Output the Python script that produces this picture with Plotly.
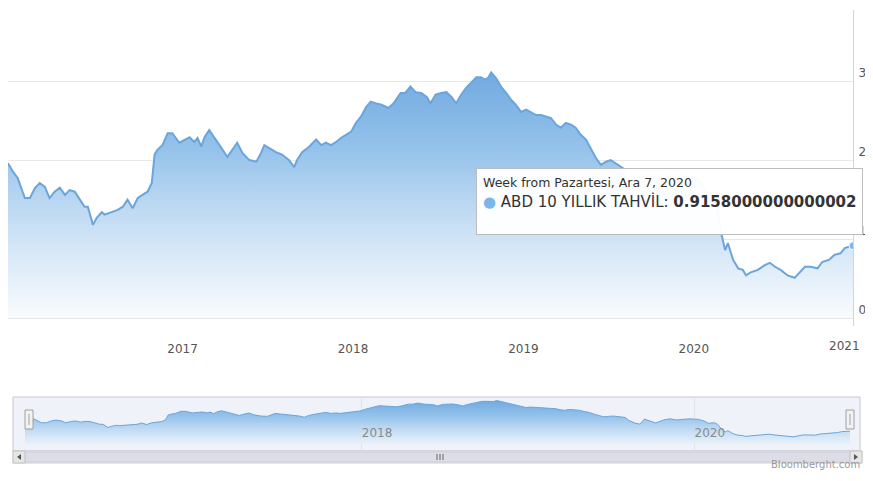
import plotly.graph_objects as go

# ---------------- data ----------------
dates = [
    "2015-12-24", "2016-01-04", "2016-01-14", "2016-01-29", "2016-02-09", "2016-02-20",
    "2016-03-01", "2016-03-12", "2016-03-22", "2016-04-02", "2016-04-13", "2016-04-24",
    "2016-05-04", "2016-05-15", "2016-05-26", "2016-06-05", "2016-06-12", "2016-06-23",
    "2016-07-01", "2016-07-12", "2016-07-18", "2016-07-29", "2016-08-15", "2016-08-26",
    "2016-09-05", "2016-09-16", "2016-09-27", "2016-10-07", "2016-10-18", "2016-10-27",
    "2016-11-02", "2016-11-08", "2016-11-19", "2016-11-30", "2016-12-10", "2016-12-25",
    "2017-01-05", "2017-01-16", "2017-01-26", "2017-02-02", "2017-02-10", "2017-02-17",
    "2017-02-27", "2017-03-10", "2017-03-21", "2017-04-07", "2017-04-17", "2017-04-28",
    "2017-05-09", "2017-05-24", "2017-06-08", "2017-06-18", "2017-06-25", "2017-07-05",
    "2017-07-20", "2017-08-02", "2017-08-17", "2017-08-28", "2017-09-03", "2017-09-14",
    "2017-09-29", "2017-10-14", "2017-10-25", "2017-11-04", "2017-11-15", "2017-11-26",
    "2017-12-06", "2017-12-17", "2017-12-28", "2018-01-07", "2018-01-18", "2018-01-29",
    "2018-02-08", "2018-02-18", "2018-03-03", "2018-03-18", "2018-03-29", "2018-04-13",
    "2018-04-23", "2018-05-04", "2018-05-15", "2018-05-27", "2018-06-08", "2018-06-16",
    "2018-06-27", "2018-07-09", "2018-07-20", "2018-07-31", "2018-08-10", "2018-08-21",
    "2018-09-01", "2018-09-11", "2018-09-22", "2018-10-02", "2018-10-11", "2018-10-17",
    "2018-10-24", "2018-11-03", "2018-11-14", "2018-11-25", "2018-12-06", "2018-12-16",
    "2018-12-27", "2019-01-07", "2019-01-18", "2019-01-28", "2019-02-08", "2019-02-18",
    "2019-03-01", "2019-03-12", "2019-03-22", "2019-04-02", "2019-04-13", "2019-04-23",
    "2019-05-04", "2019-05-15", "2019-05-26", "2019-06-05", "2019-06-16", "2019-06-27",
    "2019-07-07", "2019-07-22", "2019-08-02", "2019-08-09", "2019-08-23", "2019-09-03",
    "2019-09-13", "2019-09-27", "2019-10-08", "2019-10-25", "2019-11-08", "2019-11-22",
    "2019-12-06", "2019-12-20", "2020-01-10", "2020-01-24", "2020-01-31", "2020-02-14",
    "2020-02-21", "2020-02-28", "2020-03-08", "2020-03-14", "2020-03-25", "2020-04-05",
    "2020-04-15", "2020-04-22", "2020-05-02", "2020-05-17", "2020-06-01", "2020-06-12",
    "2020-06-23", "2020-07-05", "2020-07-20", "2020-08-04", "2020-08-15", "2020-08-26",
    "2020-09-07", "2020-09-22", "2020-10-02", "2020-10-17", "2020-10-28", "2020-11-10",
    "2020-11-20", "2020-12-07",
]
yields = [
    1.96, 1.85, 1.77, 1.52, 1.52, 1.65,
    1.71, 1.66, 1.52, 1.60, 1.65, 1.56,
    1.62, 1.60, 1.50, 1.41, 1.41, 1.18,
    1.27, 1.34, 1.31, 1.33, 1.37, 1.41,
    1.50, 1.39, 1.52, 1.56, 1.60, 1.71,
    2.07, 2.13, 2.19, 2.34, 2.34, 2.22,
    2.26, 2.29, 2.23, 2.28, 2.17, 2.29,
    2.38, 2.29, 2.19, 2.04, 2.13, 2.22,
    2.09, 2.00, 1.98, 2.09, 2.19, 2.15,
    2.10, 2.07, 2.00, 1.91, 2.00, 2.10,
    2.17, 2.26, 2.19, 2.22, 2.19, 2.23,
    2.28, 2.32, 2.36, 2.47, 2.55, 2.67,
    2.74, 2.72, 2.70, 2.66, 2.72, 2.85,
    2.85, 2.93, 2.86, 2.85, 2.80, 2.72,
    2.83, 2.85, 2.86, 2.80, 2.72, 2.83,
    2.92, 2.98, 3.05, 3.05, 3.02, 3.04,
    3.11, 3.04, 2.93, 2.85, 2.76, 2.70,
    2.61, 2.64, 2.60, 2.57, 2.57, 2.55,
    2.53, 2.45, 2.41, 2.47, 2.45, 2.41,
    2.32, 2.26, 2.13, 2.03, 1.94, 1.98,
    2.00, 1.94, 1.90, 1.70, 1.50, 1.42,
    1.78, 1.62, 1.50, 1.72, 1.80, 1.72,
    1.78, 1.80, 1.76, 1.62, 1.48, 1.52,
    1.40, 1.10, 0.86, 0.95, 0.74, 0.63,
    0.61, 0.54, 0.58, 0.61, 0.67, 0.70,
    0.65, 0.61, 0.54, 0.51, 0.58, 0.65,
    0.65, 0.63, 0.71, 0.74, 0.80, 0.82,
    0.89, 0.9158,
]

year_ticks = ["2017-01-01", "2018-01-01", "2019-01-01", "2020-01-01"]
year_labels = ["2017", "2018", "2019", "2020"]
last_year_label = "2021"
y_ticks = [0, 1, 2, 3]
nav_ticks = ["2018-01-01", "2020-01-01"]
nav_labels = ["2018", "2020"]

series_name = "ABD 10 YILLIK TAHVİL"
tooltip_header = "Week from Pazartesi, Ara 7, 2020"
tooltip_value_text = "0.9158000000000002"
credit_text = "Bloomberght.com"

# ---------------- layout helpers ----------------
# the page has an 8px body margin, so the figure is drawn from (8, 8)
OFF = 8
W, H = 857, 465
ML, MR, MT, MB = 0, 12, 2, 4
PW, PH = W - ML - MR, H - MT - MB


def px(x):  # page pixel x -> paper fraction
    return (x - OFF - ML) / PW


def py(y):  # page pixel y -> paper fraction
    return (H - MB - (y - OFF)) / PH


LINE = "#6aa5dc"
grad = [
    [0.0, "rgb(248,251,254)"],
    [0.07, "rgb(240,246,252)"],
    [0.27, "rgb(214,231,247)"],
    [0.47, "rgb(184,214,241)"],
    [0.66, "rgb(150,195,235)"],
    [1.0, "rgb(110,167,223)"],
]

fig = go.Figure()

fig.add_trace(go.Scatter(
    x=dates, y=yields, mode="lines", name=series_name,
    line=dict(color=LINE, width=2),
    fill="tozeroy",
    fillgradient=dict(type="vertical", colorscale=grad, start=0, stop=3.2),
    xaxis="x", yaxis="y", hoverinfo="skip", showlegend=False,
))

# highlighted (hovered) point
fig.add_trace(go.Scatter(
    x=[dates[-1]], y=[yields[-1]], mode="markers",
    marker=dict(size=8, color="#7cb5ec", line=dict(color="white", width=1)),
    xaxis="x", yaxis="y", hoverinfo="skip", showlegend=False,
))

# navigator series
fig.add_trace(go.Scatter(
    x=dates, y=yields, mode="lines",
    line=dict(color=LINE, width=1),
    fill="tozeroy",
    fillgradient=dict(type="vertical", colorscale=grad, start=-0.5, stop=3.2),
    xaxis="x2", yaxis="y2", hoverinfo="skip", showlegend=False,
))

main_bottom = py(326)
nav_bottom, nav_top = py(451), py(397)

shapes = []
# navigator background / outline
shapes.append(dict(type="rect", xref="paper", yref="paper",
                   x0=px(13), x1=px(860), y0=nav_bottom, y1=nav_top,
                   fillcolor="rgba(102,133,194,0.10)", line=dict(color="#c8c8d0", width=1),
                   layer="below"))
# scrollbar track
shapes.append(dict(type="rect", xref="paper", yref="paper",
                   x0=px(13), x1=px(862), y0=py(463), y1=py(451),
                   fillcolor="#ececf2", line=dict(color="#cfcfd8", width=1)))
# scrollbar bar
shapes.append(dict(type="rect", xref="paper", yref="paper",
                   x0=px(25), x1=px(850), y0=py(462), y1=py(452),
                   fillcolor="#dcdde7", line=dict(color="#cfcfd8", width=1)))
# scrollbar buttons
for a, b in ((13, 25), (850, 862)):
    shapes.append(dict(type="rect", xref="paper", yref="paper",
                       x0=px(a), x1=px(b), y0=py(463), y1=py(451),
                       fillcolor="#e6e6e6", line=dict(color="#c4c4c4", width=1)))
# arrows
shapes.append(dict(type="path", xref="paper", yref="paper",
                   path=f"M {px(17)} {py(457)} L {px(21)} {py(454)} L {px(21)} {py(460)} Z",
                   fillcolor="#555", line=dict(color="#555", width=0)))
shapes.append(dict(type="path", xref="paper", yref="paper",
                   path=f"M {px(858)} {py(457)} L {px(854)} {py(454)} L {px(854)} {py(460)} Z",
                   fillcolor="#555", line=dict(color="#555", width=0)))
# scrollbar grip
for gx in (437, 440, 443):
    shapes.append(dict(type="line", xref="paper", yref="paper",
                       x0=px(gx), x1=px(gx), y0=py(460), y1=py(454),
                       line=dict(color="#666", width=1)))
# navigator handles
for hx in (29, 850):
    shapes.append(dict(type="rect", xref="paper", yref="paper",
                       x0=px(hx - 4), x1=px(hx + 4), y0=py(429), y1=py(410),
                       fillcolor="#f2f2f2", line=dict(color="#a0a0a0", width=1)))
    shapes.append(dict(type="line", xref="paper", yref="paper",
                       x0=px(hx), x1=px(hx), y0=py(425), y1=py(414),
                       line=dict(color="#a0a0a0", width=1)))

annotations = [
    # tooltip
    dict(x=dates[-1], y=yields[-1], xref="x", yref="y",
         xanchor="right", yanchor="bottom", xshift=10, yshift=11,
         showarrow=False, align="left",
         text=(f"<span style='font-size:12.5px;color:#333333'>{tooltip_header}</span><br>"
               f"<span style='color:#7cb5ec'>●</span> {series_name}: <b>{tooltip_value_text}</b>"
               f"<br><span style='font-size:7px'> </span>"),
         font=dict(family="DejaVu Sans", size=15, color="#333333"),
         bgcolor="rgba(255,255,255,0.96)", bordercolor="#bdbdbd", borderwidth=1, borderpad=6),
    # last year label at the right end of the axis
    dict(x=px(862), y=py(346), xref="paper", yref="paper", xanchor="right", yanchor="middle",
         showarrow=False, text=last_year_label,
         font=dict(family="DejaVu Sans", size=12, color="#555555")),
    # credits
    dict(x=px(862), y=py(472), xref="paper", yref="paper", xanchor="right", yanchor="bottom",
         showarrow=False, text=credit_text,
         font=dict(family="DejaVu Sans", size=10, color="#9a9a9a")),
]

fig.update_layout(
    width=W, height=H,
    margin=dict(l=ML, r=MR, t=MT, b=MB, autoexpand=False),
    paper_bgcolor="white", plot_bgcolor="rgba(0,0,0,0)",
    showlegend=False,
    font=dict(family="DejaVu Sans", color="#555555"),
    xaxis=dict(domain=[0, 1], anchor="y", type="date",
               range=[dates[0], dates[-1]],
               tickvals=year_ticks, ticktext=year_labels,
               showgrid=False, zeroline=False, showline=False, ticks="",
               ticklabelstandoff=14,
               tickfont=dict(size=12, color="#555555")),
    yaxis=dict(domain=[main_bottom, 1], anchor="x", side="right",
               range=[-0.1, 3.9], tickvals=y_ticks,
               ticklabelposition="outside top",
               showgrid=True, gridcolor="#e8e8e8", gridwidth=1,
               zeroline=False, showline=True, linecolor="#d4d4d4", linewidth=1,
               ticks="", ticklabelstandoff=2,
               tickfont=dict(size=12, color="#555555")),
    xaxis2=dict(domain=[px(25), px(850)], anchor="y2", type="date",
                range=[dates[0], dates[-1]],
                tickvals=nav_ticks, ticktext=nav_labels,
                ticklabelposition="inside right", ticklabelstandoff=6,
                showgrid=True, gridcolor="#e2e2e8",
                zeroline=False, showline=False, ticks="",
                tickfont=dict(size=12, color="#8a8a8a")),
    yaxis2=dict(domain=[nav_bottom, nav_top], anchor="x2",
                range=[-0.5, 3.36], visible=False, showgrid=False),
    shapes=shapes,
    annotations=annotations,
)

fig.write_html("out.html")
